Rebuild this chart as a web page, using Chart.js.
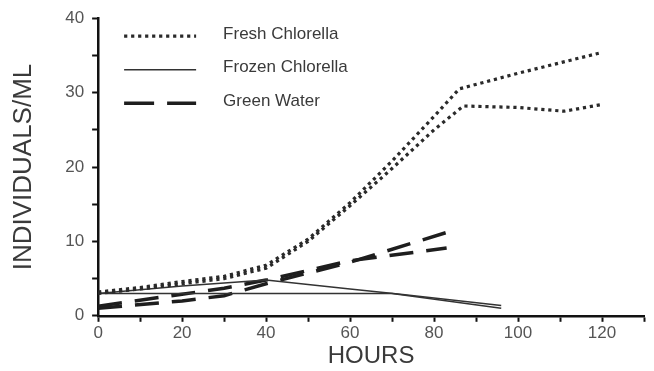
<!DOCTYPE html>
<html>
<head>
<meta charset="utf-8">
<script src="https://cdn.jsdelivr.net/npm/chart.js@4/dist/chart.umd.min.js"></script>
<style>
  html, body { margin: 0; padding: 0; background: #fff; }
  #wrap { width: 654px; height: 371px; position: relative; }
</style>
</head>
<body>
<div id="wrap"><canvas id="chart"></canvas></div>
<script>
// hours and individuals/ml (two replicates per feed)
const freshHoursA = [0, 10, 20, 30, 40, 50, 60, 70, 80, 86, 100, 110, 120];
const freshValsA  = [3.2, 3.8, 4.6, 5.3, 6.8, 10.3, 15.2, 20.8, 26.8, 30.5, 32.6, 34.0, 35.4];
const freshHoursB = [0, 10, 20, 30, 40, 50, 60, 70, 80, 87, 100, 111, 120];
const freshValsB  = [3.0, 3.6, 4.3, 5.0, 6.4, 10.0, 14.8, 19.8, 25.0, 28.2, 28.0, 27.5, 28.4];
const frozenHoursA = [0, 20, 40, 70, 96];
const frozenValsA  = [3.0, 3.0, 3.0, 3.0, 1.0];
const frozenHoursB = [0, 20, 40, 60, 72, 96];
const frozenValsB  = [3.0, 4.0, 4.8, 3.6, 2.9, 1.4];
const greenHoursA = [0, 20, 30, 40, 60, 83];
const greenValsA  = [1.0, 2.0, 2.7, 4.3, 7.2, 11.2];
const greenHoursB = [0, 20, 30, 40, 60, 83];
const greenValsB  = [1.3, 2.9, 3.7, 4.8, 7.4, 9.1];

const seriesNames = ['Fresh Chlorella', 'Frozen Chlorella', 'Green Water'];
const xTicksLabelled = [0, 20, 40, 60, 80, 100, 120];
const yTicksLabelled = [0, 10, 20, 30, 40];

function pts(xs, ys) {
    return xs.map((x, i) => ({ x: x, y: ys[i] }));
}

const dotted = { borderColor: '#2a2a2a', borderWidth: 3.2, borderDash: [3.2, 3.8] };
const solid  = { borderColor: '#333', borderWidth: 1.5, borderDash: [] };
const dashed = { borderColor: '#1e1e1e', borderWidth: 3.5, borderDash: [24, 13] };

function ds(data, style) {
    return Object.assign({ data: data, pointRadius: 0, tension: 0, fill: false }, style);
}

/* legend drawn inside the plot, top left */
const innerLegend = {
    id: 'innerLegend',
    afterDraw(chart) {
        const ctx = chart.ctx;
        const area = chart.chartArea;
        const styles = [dotted, solid, dashed];
        const x0 = area.left + 26, x1 = area.left + 98;
        ctx.save();
        ctx.font = '17px "Liberation Sans", Arial, sans-serif';
        ctx.textBaseline = 'middle';
        seriesNames.forEach((name, i) => {
            const y = area.top + 18 + i * 33.5;
            const s = styles[i];
            ctx.beginPath();
            ctx.strokeStyle = s.borderColor;
            ctx.lineWidth = s.borderWidth;
            ctx.setLineDash(i === 2 ? [30, 13] : s.borderDash);
            ctx.moveTo(x0, y);
            ctx.lineTo(x1, y);
            ctx.stroke();
            ctx.setLineDash([]);
            ctx.fillStyle = '#3a3a3a';
            ctx.fillText(name, area.left + 125, y - 2);
        });
        ctx.restore();
    }
};

new Chart(document.getElementById('chart'), {
    type: 'line',
    data: {
        datasets: [
            ds(pts(freshHoursA, freshValsA), dotted),
            ds(pts(freshHoursB, freshValsB), dotted),
            ds(pts(frozenHoursA, frozenValsA), solid),
            ds(pts(frozenHoursB, frozenValsB), solid),
            ds(pts(greenHoursA, greenValsA), dashed),
            ds(pts(greenHoursB, greenValsB), dashed)
        ]
    },
    options: {
        responsive: true,
        maintainAspectRatio: false,
        animation: false,
        layout: { padding: { left: 8, right: 10, top: 4, bottom: 0 } },
        plugins: { legend: { display: false }, tooltip: { enabled: false } },
        scales: {
            x: {
                type: 'linear',
                min: 0, max: 130,
                grid: { drawOnChartArea: false, drawTicks: true, tickLength: 6, tickWidth: 2, tickColor: '#111' },
                border: { display: true, color: '#111', width: 2.5 },
                ticks: {
                    stepSize: 10, autoSkip: false, maxRotation: 0, padding: 1,
                    color: '#555', font: { size: 17, family: '"Liberation Sans", Arial' },
                    callback: v => xTicksLabelled.includes(v) ? v : ''
                },
                title: {
                    display: true, text: 'HOURS', color: '#3a3a3a', padding: { top: -2, bottom: 0 },
                    font: { size: 24, family: '"Liberation Sans", Arial' }
                }
            },
            y: {
                min: 0, max: 40,
                grid: { drawOnChartArea: false, drawTicks: true, tickLength: 6, tickWidth: 2, tickColor: '#111' },
                border: { display: true, color: '#111', width: 2.5 },
                ticks: {
                    stepSize: 5, autoSkip: false, padding: 8,
                    color: '#555', font: { size: 17, family: '"Liberation Sans", Arial' },
                    callback: v => yTicksLabelled.includes(v) ? v : ''
                },
                title: {
                    display: true, text: 'INDIVIDUALS/ML', color: '#3a3a3a', padding: { top: 0, bottom: 18 },
                    font: { size: 26, family: '"Liberation Sans", Arial' }
                }
            }
        }
    },
    plugins: [innerLegend]
});
</script>
</body>
</html>
